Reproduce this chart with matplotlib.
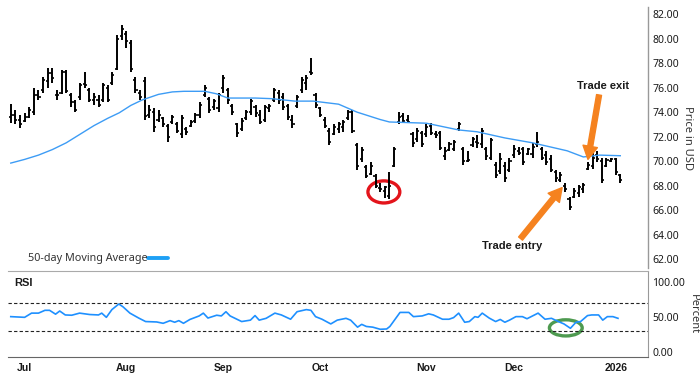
import numpy as np
import matplotlib
matplotlib.use("Agg")
import matplotlib.pyplot as plt
from matplotlib.patches import Ellipse
from matplotlib.lines import Line2D

plt.rcParams['font.family'] = ['Noto Sans', 'DejaVu Sans']
BOLD_FAMILY = ['Liberation Sans', 'DejaVu Sans']

# ---- data (trading-day index: 0 = first trading day of July 2025) ----
bar_start = -3
highs = [74.7, 74.2, 73.8, 73.9, 74.4, 76.0, 75.8, 76.9, 77.6, 77.6, 75.8, 77.4, 77.4, 75.6, 75.0, 76.4, 77.3,
         76.0, 75.6, 75.4, 76.4, 76.2, 77.3, 80.3, 81.1, 80.6, 79.9, 76.9, 75.8, 76.9, 74.6, 74.3, 74.2, 73.6,
         73.0, 73.8, 73.2, 73.8, 72.8, 73.4, 73.9, 74.8, 76.2, 75.2, 75.1, 75.6, 77.0, 76.0, 74.7, 73.1, 73.5,
         74.2, 75.1, 74.6, 74.2, 74.6, 74.7, 76.0, 75.8, 75.6, 74.7, 73.8, 75.4, 76.9, 77.0, 78.4, 75.6, 74.4,
         73.6, 72.7, 73.0, 73.2, 73.4, 74.2, 74.2, 71.5, 71.2, 69.7, 69.9, 69.0, 68.2, 68.0, 69.1, 71.2, 74.0,
         73.9, 73.8, 72.4, 72.7, 72.5, 73.0, 73.1, 72.5, 72.5, 71.2, 71.6, 71.7, 73.2, 71.2, 70.8, 72.0, 72.1,
         72.7, 71.2, 71.9, 69.9, 70.7, 69.9, 70.3, 71.3, 71.2, 71.2, 71.1, 71.5, 72.4, 71.2, 70.8, 70.5, 69.3,
         69.1, 68.2, 67.1, 67.8, 68.1, 68.2, 69.9, 70.7, 70.8, 70.3, 70.3, 70.3, 70.3, 69.0]
lows = [73.1, 73.0, 72.7, 73.2, 73.5, 73.8, 75.0, 75.6, 76.0, 76.4, 75.0, 75.5, 75.6, 74.4, 74.0, 75.0, 76.0,
        74.8, 74.6, 74.4, 74.8, 74.8, 76.2, 77.4, 79.9, 79.2, 77.3, 75.6, 75.0, 73.4, 73.5, 72.4, 73.2, 72.8,
        71.6, 73.0, 72.3, 71.9, 72.1, 72.8, 73.1, 73.5, 75.2, 73.9, 74.2, 74.0, 75.6, 74.7, 73.8, 72.0, 72.5,
        73.4, 73.8, 73.6, 73.0, 73.2, 74.0, 74.8, 74.7, 74.2, 73.4, 72.7, 74.3, 75.6, 75.8, 77.0, 74.3, 73.6,
        72.7, 71.3, 72.1, 72.3, 72.4, 73.4, 72.3, 69.3, 69.9, 68.6, 68.9, 67.8, 67.5, 67.0, 66.9, 69.5, 73.0,
        73.1, 73.1, 71.2, 71.6, 71.2, 72.0, 72.1, 71.9, 70.9, 70.1, 70.8, 70.8, 72.5, 69.7, 69.9, 71.2, 71.1,
        71.1, 70.1, 70.1, 68.6, 69.0, 68.3, 69.1, 70.3, 70.5, 69.7, 70.5, 70.3, 71.2, 70.1, 69.7, 69.1, 68.3,
        68.3, 67.5, 66.0, 67.0, 67.1, 67.4, 69.3, 69.4, 69.9, 68.2, 69.5, 69.9, 68.9, 68.2]
opens = [73.6, 73.8, 73.4, 73.3, 73.6, 74.0, 75.4, 75.8, 76.5, 77.2, 75.4, 75.6, 77.3, 75.4, 74.8, 75.2, 76.3,
         75.8, 75.0, 75.0, 75.0, 76.0, 76.4, 77.5, 80.2, 80.4, 79.6, 76.6, 75.6, 76.5, 73.8, 74.0, 73.4, 73.5,
         72.9, 73.2, 73.0, 72.2, 72.6, 72.9, 73.3, 73.8, 75.4, 75.1, 74.4, 74.3, 76.0, 75.8, 74.5, 73.0, 72.6,
         73.5, 74.0, 74.4, 73.8, 73.4, 74.3, 75.0, 75.6, 75.2, 74.5, 73.4, 74.5, 75.8, 76.4, 77.3, 75.4, 74.3,
         73.4, 72.5, 72.2, 72.6, 72.8, 73.5, 74.0, 71.3, 70.2, 69.5, 69.0, 68.8, 67.8, 67.6, 67.2, 69.6, 73.2,
         73.7, 73.4, 72.2, 71.8, 72.3, 72.2, 72.9, 72.2, 72.3, 70.4, 70.9, 71.0, 72.6, 71.0, 70.0, 71.3, 71.6,
         71.4, 71.0, 70.3, 69.7, 69.2, 69.6, 69.3, 70.5, 70.8, 71.0, 70.6, 70.6, 71.4, 71.0, 70.5, 70.2, 69.1,
         68.5, 68.0, 66.9, 67.1, 67.4, 67.7, 69.4, 69.6, 70.5, 70.0, 69.6, 70.0, 70.2, 68.9]
closes = [73.8, 73.4, 73.0, 73.6, 74.2, 75.4, 75.2, 76.6, 77.2, 76.8, 75.4, 77.3, 75.7, 74.8, 74.2, 76.2, 76.2,
          75.0, 75.2, 74.6, 76.2, 75.0, 77.0, 80.0, 80.8, 79.8, 77.5, 75.8, 75.2, 73.7, 74.2, 72.8, 73.8, 73.0,
          72.0, 73.6, 72.5, 73.5, 72.4, 73.2, 73.8, 74.6, 76.0, 74.2, 74.9, 75.4, 76.8, 75.0, 74.0, 72.3, 73.3,
          74.0, 74.9, 73.9, 73.2, 74.4, 74.5, 75.8, 75.0, 74.4, 73.6, 73.0, 75.2, 76.6, 76.8, 77.2, 74.6, 73.8,
          72.9, 71.6, 72.8, 73.0, 73.2, 74.0, 72.5, 69.6, 70.9, 68.8, 69.6, 68.0, 67.7, 67.9, 68.0, 71.0, 73.6,
          73.3, 73.2, 71.5, 72.5, 71.4, 72.8, 72.3, 72.1, 71.1, 70.8, 71.4, 71.6, 73.0, 70.0, 70.1, 71.8, 71.5,
          72.5, 70.4, 71.7, 68.9, 70.2, 68.6, 70.0, 71.0, 70.7, 69.9, 71.0, 71.2, 71.6, 70.3, 69.9, 69.3, 68.6,
          68.9, 67.7, 66.3, 67.6, 67.9, 68.1, 69.7, 70.3, 70.2, 68.5, 70.1, 70.2, 69.1, 68.5]

ma_idx = [-3, 0, 3, 6, 9, 12, 15, 18, 20.5, 23, 25.5, 29, 32, 34.5, 39, 41.5, 44, 50, 53.5, 58.5, 62.5, 68, 72,
          77, 79, 87, 94, 98, 104, 110, 117.5, 121, 124.5, 129]
ma_val = [69.85, 70.15, 70.5, 70.95, 71.5, 72.2, 72.9, 73.5, 73.95, 74.55, 75.0, 75.45, 75.65, 75.7, 75.7, 75.5,
          75.15, 75.15, 75.1, 74.9, 74.9, 74.65, 74.0, 73.4, 73.2, 73.1, 72.55, 72.4, 71.9, 71.5, 70.85, 70.35,
          70.5, 70.45]

rsi_idx = [-3, 0, 1.5, 3, 4.4, 5.4, 6.7, 7.6, 8.8, 10.2, 11.9, 14.1, 16, 16.7, 17.7, 18.9, 20.4, 21.3, 22.8,
           24.7, 26.2, 28.6, 30, 31.5, 32.5, 33.4, 34.4, 35.8, 37.8, 38.7, 39.7, 41.6, 42.6, 43.6, 44.5, 47,
           48.9, 49.9, 50.8, 52.3, 54.2, 55.6, 57.6, 59, 61, 62, 63, 64.4, 66.3, 67.7, 69.6, 70.6, 72.1, 73, 74,
           75.4, 77, 78.4, 79.1, 81.3, 83.2, 84.2, 86.1, 87.5, 88.5, 90.5, 91.9, 92.9, 94, 95.3, 96.3, 97.5,
           98.2, 99.1, 100.6, 102, 103, 104, 105, 106.4, 107.8, 108.8, 111.2, 112.7, 114.1, 115.6, 116.8, 118.2,
           119.4, 120.4, 121.9, 122.8, 124.3, 125.2, 126.2, 127.4, 128.5]
rsi_val = [50, 49, 55, 55, 59, 59, 53.5, 58, 52.4, 52, 55, 53, 52.4, 55, 49, 60, 68, 64, 55, 48, 43, 42.4, 40.5,
           44.3, 42, 44.3, 40.5, 46, 51, 55, 48, 52, 51, 57, 51, 43, 45, 51.5, 45, 47.6, 55, 52.4, 46.3, 57, 60,
           59, 50, 46.3, 39.6, 45, 47.6, 45, 35, 39, 36, 35, 32, 32.4, 36, 56, 56, 50, 51, 54, 52.4, 46.3, 46.3,
           48.6, 55, 42, 43, 50, 49, 55, 48, 43, 46, 42, 45, 50, 50, 47, 55, 46.3, 47.6, 43, 39.6, 33.4, 42, 43,
           51.5, 52.4, 52.4, 45, 50, 50, 47.6]

month_ticks = [0, 22, 43, 64, 87, 106, 128]
month_labels = ['Jul', 'Aug', 'Sep', 'Oct', 'Nov', 'Dec', '2026']
price_ticks = [62, 64, 66, 68, 70, 72, 74, 76, 78, 80, 82]
rsi_ticks = [0, 50, 100]
rsi_levels = [30, 70]

# ---- figure ----
W, H = 700, 380
fig = plt.figure(figsize=(7, 3.8), dpi=100)
left, right = 8 / W, 648 / W
ax = fig.add_axes([left, 1 - 268 / H, right - left, 261 / H])
axr = fig.add_axes([left, 1 - 357 / H, right - left, 86 / H], sharex=ax)

x = np.arange(bar_start, bar_start + len(highs))
ax.vlines(x, lows, highs, color='black', lw=1.4)
ax.hlines(opens, x - 0.45, x, color='black', lw=1.2)
ax.hlines(closes, x, x + 0.45, color='black', lw=1.2)
ax.plot(ma_idx, ma_val, color='#3d9cf5', lw=1.0)

ax.set_xlim(-3.6, 135)
ax.set_ylim(61.3, 82.57)
ax.yaxis.tick_right()
ax.set_yticks(price_ticks)
ax.set_yticklabels([f"{v:.2f}" for v in price_ticks])
ax.tick_params(axis='y', length=0, pad=3, labelsize=7.5, colors='#1a1a1a')
ax.tick_params(axis='x', length=0, labelbottom=False)
for s in ['top', 'left', 'bottom']:
    ax.spines[s].set_visible(False)
ax.spines['right'].set_color('#999999')
ax.spines['right'].set_linewidth(1.0)
ax.yaxis.set_label_position('right')
ax.set_ylabel('Price in USD', rotation=270, labelpad=10, fontsize=8, color='#333333')

# annotations
ax.add_patch(Ellipse((77.8, 67.5), 6.9, 1.8, fill=False, edgecolor='#e3141b', lw=2.4))
arrow_kw = dict(facecolor='#f5821f', edgecolor='#f5821f', width=3.6, headwidth=10.5, headlength=9.5, shrink=0)
ax.annotate('', xy=(116.4, 67.85), xytext=(107.4, 63.7), arrowprops=arrow_kw)
ax.annotate('', xy=(122.0, 70.15), xytext=(124.4, 75.4), arrowprops=arrow_kw)
ax.text(105.6, 63.1, 'Trade entry', ha='center', va='center', fontsize=8, fontweight='bold',
        color='#1a1a1a', family=BOLD_FAMILY)
ax.text(125.2, 76.15, 'Trade exit', ha='center', va='center', fontsize=8, fontweight='bold',
        color='#1a1a1a', family=BOLD_FAMILY)

# legend
fig.text(28 / W, 1 - 258 / H, '50-day Moving Average', ha='left', va='center', fontsize=7.8, color='#333333')
fig.add_artist(Line2D([148 / W, 168 / W], [1 - 258 / H, 1 - 258 / H], color='#1ea0f5', lw=2.8,
                      solid_capstyle='round'))

# RSI panel
axr.plot(rsi_idx, rsi_val, color='#1e90ff', lw=1.2)
for lv in rsi_levels:
    axr.axhline(lv, color='#222222', lw=0.8, ls=(0, (3, 2)))
axr.set_ylim(-7.5, 115)
axr.yaxis.tick_right()
axr.set_yticks(rsi_ticks)
axr.set_yticklabels([f"{v:.2f}" for v in rsi_ticks])
axr.tick_params(axis='y', length=0, pad=3, labelsize=7.5, colors='#1a1a1a')
axr.set_xticks(month_ticks)
axr.set_xticklabels(month_labels, fontweight='bold', family=BOLD_FAMILY)
axr.tick_params(axis='x', length=0, pad=4, labelsize=7.5, colors='#1a1a1a')
axr.spines['left'].set_visible(False)
axr.spines['top'].set_color('#aaaaaa')
axr.spines['bottom'].set_color('#666666')
axr.spines['right'].set_color('#999999')
axr.yaxis.set_label_position('right')
axr.set_ylabel('Percent', rotation=270, labelpad=10, fontsize=8, color='#333333')
axr.text(0.01, 0.86, 'RSI', transform=axr.transAxes, fontsize=8, fontweight='bold', color='#1a1a1a',
         ha='left', va='center', family=BOLD_FAMILY)
axr.add_patch(Ellipse((117.2, 34), 7.1, 23, fill=False, edgecolor='#4e9a50', lw=2.4))

fig.savefig('out.png', dpi=100)
